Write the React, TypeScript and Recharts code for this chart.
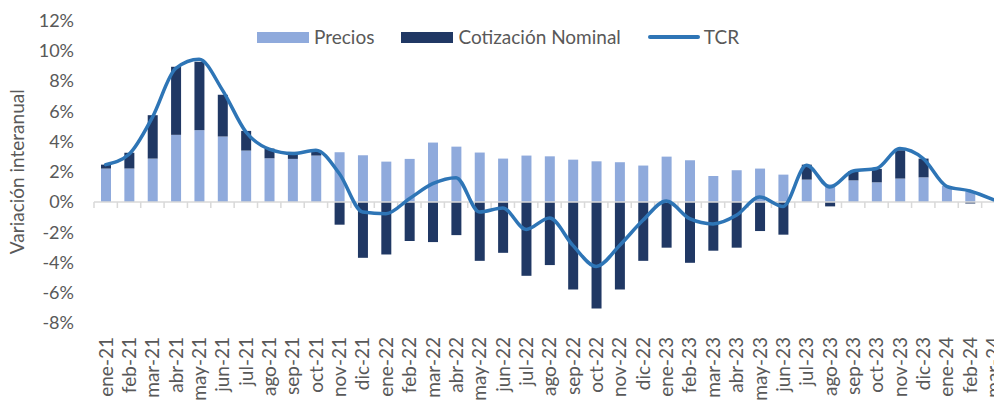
import { Bar, ComposedChart, Legend, Line, ReferenceLine, XAxis, YAxis } from "recharts";

const months = [
  "ene-21", "feb-21", "mar-21", "abr-21", "may-21", "jun-21", "jul-21", "ago-21", "sep-21", "oct-21", "nov-21", "dic-21",
  "ene-22", "feb-22", "mar-22", "abr-22", "may-22", "jun-22", "jul-22", "ago-22", "sep-22", "oct-22", "nov-22", "dic-22",
  "ene-23", "feb-23", "mar-23", "abr-23", "may-23", "jun-23", "jul-23", "ago-23", "sep-23", "oct-23", "nov-23", "dic-23",
  "ene-24", "feb-24", "mar-24",
];

const precios = [
  2.21, 2.21, 2.87, 4.44, 4.75, 4.33, 3.4, 2.89, 2.85, 3.07, 3.29, 3.09,
  2.67, 2.85, 3.93, 3.66, 3.27, 2.87, 3.07, 3.02, 2.8, 2.69, 2.63, 2.41,
  3.0, 2.76, 1.72, 2.1, 2.21, 1.81, 1.48, 1.17, 1.43, 1.3, 1.55, 1.63,
  1.06, 0.71, null,
];

const nominal = [
  0.26, 1.04, 2.87, 4.5, 4.52, 2.76, 1.3, 0.64, 0.46, 0.3, -1.5, -3.69,
  -3.47, -2.58, -2.65, -2.19, -3.89, -3.36, -4.88, -4.17, -5.78, -7.04, -5.78, -3.89,
  -3.02, -4.02, -3.22, -3.02, -1.92, -2.16, 0.99, -0.29, 0.62, 0.89, 1.87, 1.24,
  0.0, -0.1, null,
];

const tcr = [
  2.47, 3.16, 5.6, 8.83, 9.43, 7.4, 4.64, 3.49, 3.2, 3.42, 1.88, -0.66,
  -0.77, 0.22, 1.21, 1.61, -0.66, -0.4, -1.81, -1.06, -2.87, -4.26, -2.87, -1.21,
  0.07, -1.1, -1.45, -0.88, 0.33, -0.29, 2.43, 0.99, 2.05, 2.21, 3.53, 2.87,
  1.04, 0.73, 0.15,
];

const yTicks = [-8, -6, -4, -2, 0, 2, 4, 6, 8, 10, 12];

const data = months.map((m, i) => ({
  mes: m,
  precios: precios[i],
  nominal: nominal[i],
  tcr: tcr[i],
}));

const FONT = "Lato, 'Open Sans', sans-serif";
const TEXT = "#595959";
const LIGHT = "#8FAADC";
const DARK = "#203864";
const LINE = "#2E75B6";

const legendItems = [
  { name: "Precios", color: LIGHT, kind: "rect" },
  { name: "Cotización Nominal", color: DARK, kind: "rect" },
  { name: "TCR", color: LINE, kind: "line" },
];

function LegendBox() {
  return (
    <div style={{ display: "flex", alignItems: "center", fontFamily: FONT, fontSize: 19, color: TEXT }}>
      {legendItems.map((it, i) => (
        <div key={it.name} style={{ display: "flex", alignItems: "center", marginLeft: i === 0 ? 0 : 27 }}>
          <div
            style={{
              width: 52,
              height: it.kind === "rect" ? 11 : 3.5,
              background: it.color,
              borderRadius: it.kind === "line" ? 2 : 0,
              marginRight: it.kind === "rect" ? 5 : 4,
            }}
          />
          <span style={{ lineHeight: "20px" }}>{it.name}</span>
        </div>
      ))}
    </div>
  );
}

function MonthTick(props: any) {
  const { x, y, payload } = props;
  return (
    <g transform={`translate(${x},${y + 6})`}>
      <text transform="rotate(-90)" textAnchor="end" dy="0.36em" fill={TEXT} fontSize={19} fontFamily={FONT}>
        {payload.value}
      </text>
    </g>
  );
}

function ZeroAxis(props: any) {
  const { x1, y1, x2 } = props;
  const n = months.length;
  const step = (x2 - x1) / n;
  const marks = [];
  for (let i = 0; i <= n; i++) {
    const x = x1 + i * step;
    marks.push(<line key={i} x1={x} y1={y1} x2={x} y2={y1 + 6} stroke="#D9D9D9" strokeWidth={1.5} />);
  }
  return (
    <g>
      <line x1={x1} y1={y1} x2={x2} y2={y1} stroke="#D9D9D9" strokeWidth={1.5} />
      {marks}
    </g>
  );
}

export default function App() {
  return (
    <div style={{ position: "absolute", left: 0, top: 8, width: 994, height: 393, overflow: "hidden" }}>
      <ComposedChart
        width={1008}
        height={393}
        data={data}
        stackOffset="sign"
        margin={{ top: 12.5, right: 3, left: 8, bottom: 0 }}
      >
        <XAxis
          dataKey="mes"
          interval={0}
          axisLine={false}
          tickLine={false}
          height={78}
          tick={<MonthTick />}
        />
        <YAxis
          domain={[-8, 12]}
          ticks={yTicks}
          width={86}
          axisLine={false}
          tickLine={false}
          tickMargin={14}
          tickFormatter={(v: number) => `${v}%`}
          tick={{ fill: TEXT, fontSize: 18, fontFamily: FONT }}
          label={{
            content: (p: any) => {
              const vb = p.viewBox || { x: 0, y: 0, height: 0 };
              const cy = vb.y + vb.height / 2;
              return (
                <text
                  x={24}
                  y={cy}
                  transform={`rotate(-90, 24, ${cy})`}
                  textAnchor="middle"
                  fill={TEXT}
                  fontSize={19}
                  fontFamily={FONT}
                >
                  Variación interanual
                </text>
              );
            },
          }}
        />
        <Legend
          layout="horizontal"
          verticalAlign="middle"
          align="center"
          wrapperStyle={{ top: 19, left: 257, width: "auto" }}
          content={() => <LegendBox />}
        />
        <Bar dataKey="precios" name="Precios" stackId="a" fill={LIGHT} barSize={10} isAnimationActive={false} />
        <Bar dataKey="nominal" name="Cotización Nominal" stackId="a" fill={DARK} barSize={10} isAnimationActive={false} />
        <ReferenceLine y={0} shape={(p: any) => <ZeroAxis {...p} />} />
        <Line
          dataKey="tcr"
          name="TCR"
          type="monotone"
          stroke={LINE}
          strokeWidth={3.5}
          strokeLinecap="round"
          dot={false}
          activeDot={false}
          isAnimationActive={false}
        />
      </ComposedChart>
    </div>
  );
}
